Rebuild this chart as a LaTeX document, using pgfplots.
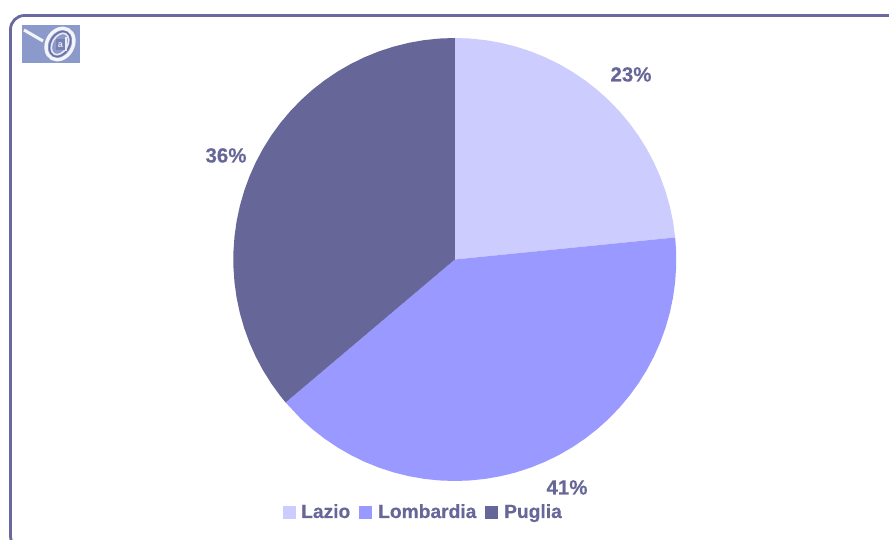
\documentclass[border=0pt]{standalone}
\usepackage{fontspec}
\setmainfont{Liberation Sans}
\newfontfamily\heavy[FakeBold=0.25]{Liberation Sans Bold}
\usepackage{pgfplots}
\pgfplotsset{compat=1.18}
\usepgfplotslibrary{polar}
\definecolor{cA}{HTML}{CCCCFF}
\definecolor{cB}{HTML}{9999FF}
\definecolor{cC}{HTML}{666699}
\definecolor{cF}{HTML}{6A68A0}
\definecolor{cI}{HTML}{8C9ACB}
\begin{document}
\begin{tikzpicture}[x=1pt,y=1pt]
\useasboundingbox (0,0) rectangle (889,540);
\begin{scope}
\clip (0,0) rectangle (889,540);
\fill[white] (0,0) rectangle (889,540);
\draw[cF,line width=2.8pt,rounded corners=14pt] (10.5,-10) rectangle (905,524.5);
\end{scope}
% icon
\begin{scope}
\clip (22,477) rectangle (80,515);
\fill[cI] (22,477) rectangle (80,515);
\draw[white!90!cI,line width=3pt] (24,510) -- (43,499);
\draw[white!90!cI,line width=3.4pt,rotate around={60:(60,496)}] (60,496) ellipse (16.5 and 13);
\draw[cC!85!cI,line width=1.3pt,rotate around={60:(60,496)}] (60,496) ellipse (13.5 and 9.5);
\draw[white!80!cI,line width=1.5pt,rotate around={60:(60,496)}] (60,496) ellipse (11.5 and 7.5);
\fill[cC!50!cI] (56,490) rectangle (65,501);
\draw[white!80!cI,line width=1.3pt] (66,503) -- (66,489);
\node[white!75!cI,font=\fontsize{9}{9}\selectfont\bfseries] at (60.5,495) {a};
\end{scope}
\begin{polaraxis}[
  scale only axis,width=443pt,height=443pt,
  at={(233.3pt,59pt)},anchor=south west,
  hide axis,clip=false,
  ymin=0,ymax=1,
  xmin=0,xmax=360,
]
\addplot[fill=cA,draw=none] coordinates {
(90,0)(90,1)(86,1)(82,1)(78,1)(74,1)(70,1)(66,1)(62,1)(58,1)(54,1)(50,1)(46,1)(42,1)(38,1)(34,1)(30,1)(26,1)(22,1)(18,1)(14,1)(10,1)(5.7,1)(5.7,0)};
\addplot[fill=cB,draw=none] coordinates {
(5.7,0)(5.7,1)(2,1)(-2,1)(-6,1)(-10,1)(-14,1)(-18,1)(-22,1)(-26,1)(-30,1)(-34,1)(-38,1)(-42,1)(-46,1)(-50,1)(-54,1)(-58,1)(-62,1)(-66,1)(-70,1)(-74,1)(-78,1)(-82,1)(-86,1)(-90,1)(-94,1)(-98,1)(-102,1)(-106,1)(-110,1)(-114,1)(-118,1)(-122,1)(-126,1)(-130,1)(-134,1)(-139.8,1)(-139.8,0)};
\addplot[fill=cC,draw=none] coordinates {
(-139.8,0)(-139.8,1)(-142,1)(-146,1)(-150,1)(-154,1)(-158,1)(-162,1)(-166,1)(-170,1)(-174,1)(-178,1)(-182,1)(-186,1)(-190,1)(-194,1)(-198,1)(-202,1)(-206,1)(-210,1)(-214,1)(-218,1)(-222,1)(-226,1)(-230,1)(-234,1)(-238,1)(-242,1)(-246,1)(-250,1)(-254,1)(-258,1)(-262,1)(-266,1)(-270,1)(-270,0)};
\end{polaraxis}
\tikzset{lab/.style={text=cC,font=\heavy\fontsize{20.5}{20}\selectfont,inner sep=0pt,anchor=base}}
\node[lab] at (631,458.5) {23\%};
\node[lab] at (226,377.5) {36\%};
\node[lab] at (567,45.5) {41\%};
\tikzset{leg/.style={text=cC,font=\heavy\fontsize{19.2}{19}\selectfont,inner sep=0pt,anchor=base west}}
\fill[cA] (283,21) rectangle (296,34);
\node[leg] at (301,22) {Lazio};
\fill[cB] (359,21) rectangle (372,34);
\node[leg] at (378,22) {Lombardia};
\fill[cC] (485,21) rectangle (498,34);
\node[leg] at (504,22) {Puglia};
\end{tikzpicture}
\end{document}
